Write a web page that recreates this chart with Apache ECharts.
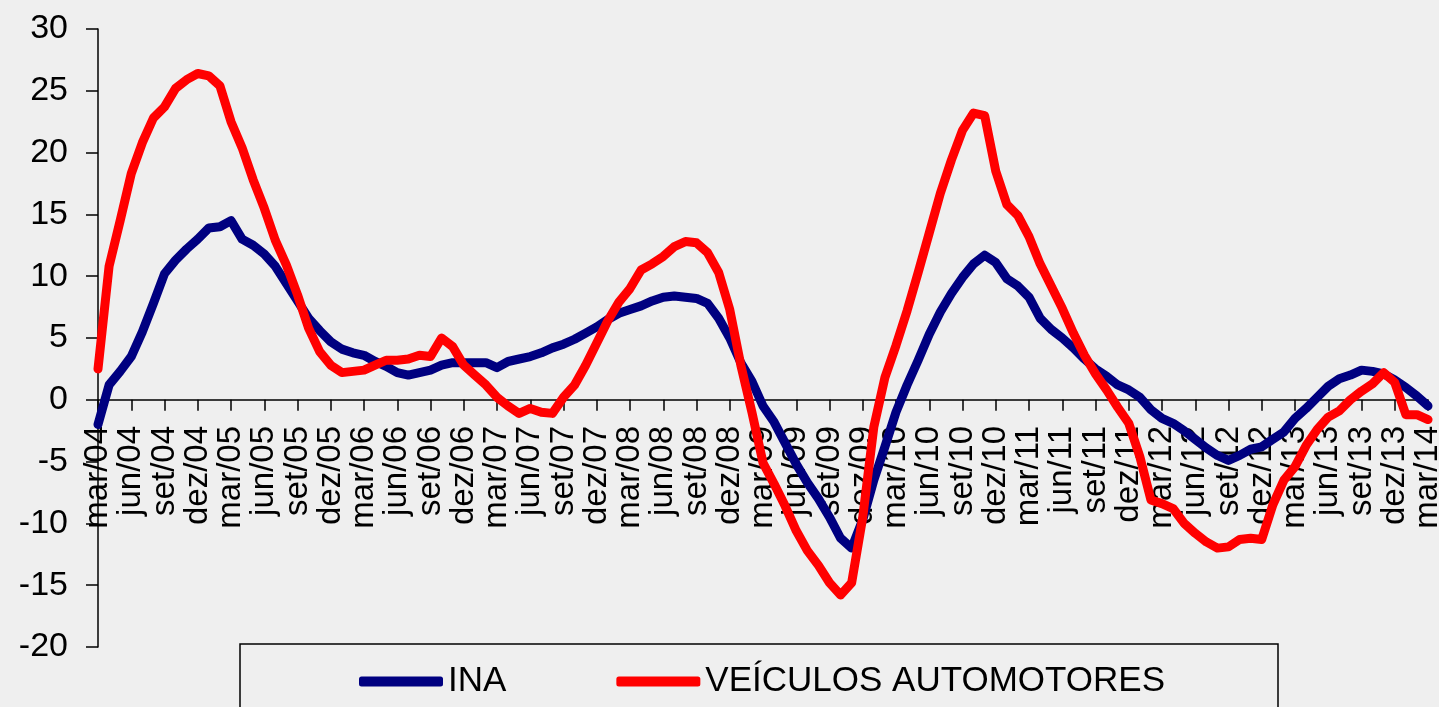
<!DOCTYPE html>
<html>
<head>
<meta charset="utf-8">
<title>INA x Veículos automotores</title>
<script src="https://cdn.jsdelivr.net/npm/echarts@6/dist/echarts.min.js"></script>
<style>
  html, body { margin: 0; padding: 0; background: #efefef; }
  #chart { width: 1439px; height: 707px; }
</style>
</head>
<body>
<div id="chart"></div>
<script>
  // meses (pt-BR) e anos do período mar/04 .. mar/14
  const meses = ['jan', 'fev', 'mar', 'abr', 'mai', 'jun', 'jul', 'ago', 'set', 'out', 'nov', 'dez'];
  const anos = ['04', '05', '06', '07', '08', '09', '10', '11', '12', '13', '14'];

  const categorias = [];
  anos.forEach((a, k) => {
    meses.forEach((m, j) => {
      if (k === 0 && j < 2) return;
      if (k === anos.length - 1 && j > 2) return;
      categorias.push(m + '/' + a);
    });
  });

  const ina = [
    -2.0, 1.2, 2.3, 3.5, 5.5, 7.8, 10.2, 11.3, 12.2, 13.0, 13.9, 14.0,
    14.5, 13.0, 12.5, 11.8, 10.8, 9.4, 8.0, 6.6, 5.6, 4.7, 4.1, 3.8,
    3.6, 3.1, 2.7, 2.2, 2.0, 2.2, 2.4, 2.8, 3.0, 3.0, 3.0, 3.0,
    2.6, 3.1, 3.3, 3.5, 3.8, 4.2, 4.5, 4.9, 5.4, 5.9, 6.5, 7.0,
    7.3, 7.6, 8.0, 8.3, 8.4, 8.3, 8.2, 7.8, 6.6, 5.0, 3.0, 1.5,
    -0.5, -1.8, -3.5, -5.2, -6.7, -8.0, -9.5, -11.2, -12.0, -9.7, -6.5, -3.8,
    -1.0, 1.2, 3.2, 5.3, 7.1, 8.6, 9.9, 11.0, 11.7, 11.1, 9.8, 9.2,
    8.3, 6.6, 5.7, 5.0, 4.2, 3.3, 2.5, 1.9, 1.2, 0.8, 0.2, -0.8,
    -1.5, -1.9, -2.5, -3.2, -3.9, -4.5, -4.9, -4.5, -4.0, -3.8, -3.2, -2.6,
    -1.5, -0.7, 0.2, 1.1, 1.7, 2.0, 2.4, 2.3, 2.1, 1.6, 1.0, 0.3,
    -0.5
  ];

  const veiculos = [
    2.5, 10.8, 14.5, 18.3, 20.8, 22.8, 23.7, 25.2, 25.9, 26.4, 26.2, 25.4,
    22.5, 20.4, 17.8, 15.5, 12.9, 10.9, 8.5, 5.8, 3.9, 2.8, 2.2, 2.3,
    2.4, 2.8, 3.2, 3.2, 3.3, 3.6, 3.5, 5.0, 4.3, 2.8, 2.0, 1.2,
    0.2, -0.5, -1.1, -0.7, -1.0, -1.1, 0.2, 1.2, 2.8, 4.6, 6.4, 7.9,
    9.0, 10.5, 11.0, 11.6, 12.4, 12.8, 12.7, 11.9, 10.3, 7.3, 2.8, -1.0,
    -5.1, -6.8, -8.6, -10.6, -12.2, -13.4, -14.8, -15.8, -14.8, -9.5, -2.2, 1.8,
    4.4, 7.2, 10.3, 13.5, 16.7, 19.4, 21.8, 23.2, 23.0, 18.5, 15.8, 14.9,
    13.2, 11.0, 9.2, 7.4, 5.4, 3.6, 2.1, 0.8, -0.6, -1.9, -4.6, -8.1,
    -8.4, -8.8, -10.0, -10.8, -11.5, -12.0, -11.9, -11.3, -11.2, -11.3, -8.5, -6.5,
    -5.4, -3.7, -2.4, -1.4, -0.9, 0.0, 0.7, 1.3, 2.2, 1.4, -1.2, -1.2,
    -1.6
  ];

  const fonte = "'Liberation Sans', Arial, sans-serif";
  const chart = echarts.init(document.getElementById('chart'));

  // área de plotagem: topo 29, base 647 -> zero em ~400
  const gridTop = 29, gridBottom = 60, yMin = -20, yMax = 30;
  const plotH = 707 - gridTop - gridBottom;
  const zeroOffset = -Math.round(plotH * (0 - yMin) / (yMax - yMin)); // sobe os rótulos até a linha do zero

  const option = {
    backgroundColor: '#efefef',
    animation: false,
    textStyle: { fontFamily: fonte, color: '#000' },
    grid: { left: 98, right: 11, top: gridTop, bottom: gridBottom, containLabel: false, outerBoundsMode: 'none' },
    legend: {
      left: 354,
      top: 659,
      itemWidth: 84,
      itemHeight: 10,
      itemGap: 110,
      icon: 'roundRect',
      textStyle: { fontSize: 35, color: '#000', fontFamily: fonte },
      data: ['INA', 'VEÍCULOS AUTOMOTORES'],
    },
    graphic: [
      {
        type: 'rect',
        shape: { x: 240, y: 644, width: 1038, height: 90 },
        style: { fill: 'none', stroke: '#000', lineWidth: 1.5 },
        silent: true,
        z: 10,
      },
    ],
    xAxis: [
      {
        type: 'category',
        boundaryGap: false,
        data: categorias,
        axisLine: { onZero: true, lineStyle: { color: '#000', width: 1.5 } },
        axisTick: { show: true, interval: 2, length: 11, lineStyle: { color: '#000', width: 1.5 } },
        axisLabel: { show: false },
        splitLine: { show: false },
      },
      {
        // só os rótulos, levados para a altura do zero
        type: 'category',
        position: 'bottom',
        offset: zeroOffset,
        boundaryGap: false,
        data: categorias,
        axisLine: { show: false, onZero: false },
        axisTick: { show: false },
        axisLabel: {
          interval: 2,
          rotate: 90,
          margin: 26,
          fontSize: 33,
          color: '#000',
          fontFamily: fonte,
          showMinLabel: true,
          showMaxLabel: true,
          hideOverlap: false,
        },
        splitLine: { show: false },
      },
    ],
    yAxis: {
      type: 'value',
      min: yMin,
      max: yMax,
      interval: 5,
      axisLine: { show: true, lineStyle: { color: '#000', width: 1.5 } },
      axisTick: { show: true, length: 12, lineStyle: { color: '#000', width: 1.5 } },
      axisLabel: { fontSize: 34, color: '#000', margin: 30, fontFamily: fonte },
      splitLine: { show: false },
    },
    series: [
      {
        name: 'INA',
        type: 'line',
        data: ina,
        showSymbol: false,
        symbol: 'none',
        color: '#000080',
        lineStyle: { color: '#000080', width: 9, cap: 'round', join: 'round' },
        z: 2,
      },
      {
        name: 'VEÍCULOS AUTOMOTORES',
        type: 'line',
        data: veiculos,
        showSymbol: false,
        symbol: 'none',
        color: '#ff0000',
        lineStyle: { color: '#ff0000', width: 9, cap: 'round', join: 'round' },
        z: 3,
      },
    ],
  };

  chart.setOption(option);
</script>
</body>
</html>
